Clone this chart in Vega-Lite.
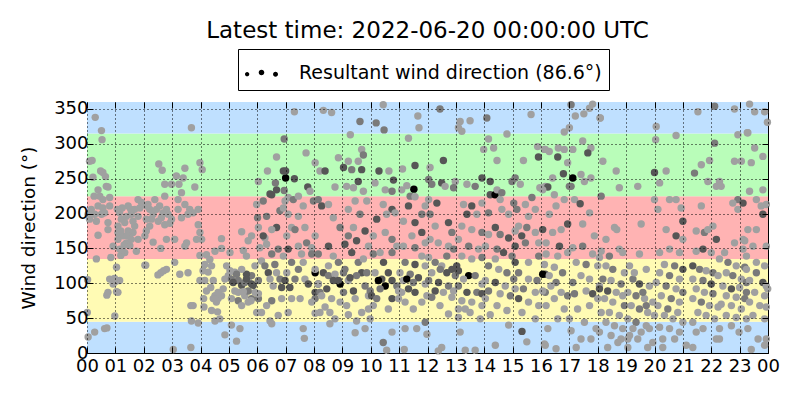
{
  "$schema": "https://vega.github.io/schema/vega-lite/v6.json",
  "width": 681,
  "height": 251,
  "autosize": "none",
  "padding": {"left": 87, "top": 102, "right": 32, "bottom": 47},
  "background": "white",
  "title": {
    "text": "Latest time: 2022-06-20 00:00:00 UTC",
    "font": "DejaVu Sans",
    "fontSize": 23,
    "fontWeight": "normal",
    "color": "black",
    "anchor": "middle",
    "offset": 6
  },
  "config": {
    "view": {"stroke": "black", "strokeWidth": 1},
    "axis": {
      "domain": false,
      "tickColor": "black",
      "tickSize": -6,
      "tickWidth": 1,
      "labelColor": "black",
      "labelFont": "DejaVu Sans",
      "labelFontSize": 18,
      "titleFont": "DejaVu Sans",
      "titleFontWeight": "normal",
      "titleFontSize": 18.5,
      "titleColor": "black",
      "gridColor": "black",
      "gridDash": [1, 3],
      "gridWidth": 1,
      "gridOpacity": 1,
      "labelPadding": 5
    }
  },
  "resolve": {"axis": {"x": "independent", "y": "independent"}},
  "datasets": {
    "obs": [
      {"t":0.29,"d":338,"s":0},{"t":0.51,"d":319,"s":0},{"t":0.53,"d":306,"s":0},{"t":0.09,"d":275,"s":0},{"t":0.18,"d":276,"s":0},{"t":0.48,"d":261,"s":0},{"t":0.56,"d":259,"s":0},{"t":0.21,"d":252,"s":0},{"t":0.65,"d":253,"s":0},{"t":0.68,"d":239,"s":0},{"t":0.39,"d":234,"s":0},{"t":0.74,"d":238,"s":0},{"t":0.45,"d":225,"s":0},{"t":0.25,"d":225,"s":0},{"t":0.56,"d":220,"s":0},{"t":0.8,"d":223,"s":0},{"t":0.39,"d":211,"s":0},{"t":0.15,"d":206,"s":0},{"t":0.56,"d":208,"s":0},{"t":0.8,"d":211,"s":0},{"t":0.27,"d":199,"s":0},{"t":0.51,"d":199,"s":0},{"t":0.09,"d":192,"s":0},{"t":0.33,"d":189,"s":0},{"t":0.62,"d":201,"s":0},{"t":0.74,"d":187,"s":0},{"t":0.04,"d":199,"s":0},{"t":0.39,"d":169,"s":0},{"t":0.74,"d":177,"s":0},{"t":0.33,"d":135,"s":0},{"t":0.92,"d":153,"s":0},{"t":0.84,"d":137,"s":0},{"t":0.8,"d":106,"s":0},{"t":0.98,"d":104,"s":0},{"t":0.92,"d":99,"s":0},{"t":0.74,"d":87,"s":0},{"t":1.04,"d":88,"s":0},{"t":0.98,"d":53,"s":0},{"t":0.01,"d":58,"s":0},{"t":0.27,"d":30,"s":0},{"t":0.62,"d":35,"s":0},{"t":0.04,"d":23,"s":0},{"t":0.02,"d":105,"s":0},{"t":0.7,"d":83,"s":0},{"t":0.7,"d":36,"s":0},{"t":0.97,"d":107,"s":0},{"t":1.02,"d":103,"s":0},
      {"t":1.15,"d":201,"s":0},{"t":1.21,"d":192,"s":0},{"t":1.09,"d":182,"s":0},{"t":1.33,"d":187,"s":0},{"t":1.45,"d":211,"s":0},{"t":1.56,"d":199,"s":0},{"t":1.68,"d":206,"s":0},{"t":1.8,"d":220,"s":0},{"t":1.92,"d":216,"s":0},{"t":1.09,"d":173,"s":0},{"t":1.27,"d":168,"s":0},{"t":1.39,"d":158,"s":0},{"t":1.15,"d":149,"s":0},{"t":1.51,"d":154,"s":0},{"t":1.62,"d":173,"s":0},{"t":1.68,"d":182,"s":0},{"t":1.8,"d":196,"s":0},{"t":1.74,"d":146,"s":0},{"t":1.33,"d":144,"s":0},{"t":1.09,"d":163,"s":0},{"t":1.45,"d":175,"s":0},{"t":1.86,"d":208,"s":0},{"t":1.62,"d":189,"s":0},{"t":1.31,"d":155,"s":0},{"t":1.19,"d":140,"s":0},{"t":2.07,"d":126,"s":0},{"t":1.24,"d":208,"s":0},{"t":1.39,"d":196,"s":0},{"t":1.54,"d":206,"s":0},{"t":1.07,"d":206,"s":0},{"t":1.19,"d":175,"s":0},{"t":1.42,"d":168,"s":0},{"t":1.56,"d":163,"s":0},{"t":1.8,"d":163,"s":0},{"t":1.24,"d":148,"s":0},{"t":1.04,"d":123,"s":0},{"t":1.09,"d":87,"s":0},{"t":1.15,"d":104,"s":0},
      {"t":2.53,"d":271,"s":0},{"t":2.65,"d":262,"s":0},{"t":2.15,"d":213,"s":0},{"t":2.33,"d":199,"s":0},{"t":2.45,"d":206,"s":0},{"t":2.56,"d":211,"s":0},{"t":2.68,"d":201,"s":0},{"t":2.74,"d":225,"s":0},{"t":2.8,"d":206,"s":0},{"t":2.86,"d":199,"s":0},{"t":2.92,"d":186,"s":0},{"t":2.09,"d":192,"s":0},{"t":2.21,"d":182,"s":0},{"t":2.39,"d":220,"s":0},{"t":2.62,"d":194,"s":0},{"t":2.04,"d":168,"s":0},{"t":2.33,"d":159,"s":0},{"t":2.6,"d":150,"s":0},{"t":2.8,"d":163,"s":0},{"t":2.6,"d":115,"s":0},{"t":2.8,"d":120,"s":0},{"t":2.74,"d":242,"s":0},{"t":2.98,"d":242,"s":0},{"t":2.21,"d":206,"s":0},{"t":2.09,"d":211,"s":0},{"t":2.27,"d":192,"s":0},{"t":2.51,"d":189,"s":0},{"t":2.74,"d":184,"s":0},{"t":2.09,"d":175,"s":0},{"t":2.04,"d":126,"s":0},{"t":2.5,"d":112,"s":0},{"t":2.7,"d":118,"s":0},
      {"t":3.15,"d":254,"s":0},{"t":3.39,"d":251,"s":0},{"t":3.45,"d":265,"s":0},{"t":3.68,"d":323,"s":0},{"t":3.24,"d":242,"s":0},{"t":3.33,"d":230,"s":0},{"t":3.21,"d":220,"s":0},{"t":3.45,"d":213,"s":0},{"t":3.62,"d":206,"s":0},{"t":3.74,"d":201,"s":0},{"t":3.92,"d":206,"s":0},{"t":3.8,"d":238,"s":0},{"t":2.98,"d":192,"s":0},{"t":3.33,"d":194,"s":0},{"t":3.09,"d":163,"s":0},{"t":3.51,"d":158,"s":0},{"t":3.92,"d":184,"s":0},{"t":3.98,"d":273,"s":0},{"t":4.06,"d":263,"s":0},{"t":3.98,"d":173,"s":0},{"t":4.04,"d":163,"s":0},{"t":3.98,"d":140,"s":0},{"t":3.45,"d":153,"s":0},{"t":3.09,"d":130,"s":0},{"t":3.56,"d":115,"s":0},{"t":3.27,"d":113,"s":0},{"t":3.66,"d":68,"s":0},{"t":3.74,"d":68,"s":0},{"t":3.92,"d":43,"s":0},{"t":3.04,"d":5,"s":0},{"t":3.66,"d":8,"s":0},{"t":3.68,"d":46,"s":0},{"t":3.21,"d":206,"s":0},{"t":3.56,"d":199,"s":0},{"t":3.86,"d":163,"s":0},
      {"t":4.21,"d":141,"s":0},{"t":4.51,"d":146,"s":0},{"t":4.33,"d":134,"s":0},{"t":4.15,"d":127,"s":0},{"t":4.09,"d":118,"s":0},{"t":3.98,"d":104,"s":0},{"t":4.45,"d":104,"s":0},{"t":4.21,"d":89,"s":0},{"t":4.36,"d":94,"s":0},{"t":4.51,"d":82,"s":0},{"t":4.62,"d":78,"s":0},{"t":4.56,"d":73,"s":0},{"t":4.39,"d":61,"s":0},{"t":4.6,"d":59,"s":0},{"t":4.68,"d":49,"s":0},{"t":4.51,"d":46,"s":0},{"t":4.74,"d":82,"s":0},{"t":4.8,"d":92,"s":0},{"t":4.86,"d":106,"s":0},{"t":4.98,"d":111,"s":0},{"t":4.92,"d":125,"s":0},{"t":5.04,"d":144,"s":0},{"t":4.74,"d":150,"s":0},{"t":5.09,"d":40,"s":0},{"t":4.86,"d":26,"s":0},{"t":4.74,"d":164,"s":0},{"t":4.12,"d":66,"s":0},{"t":4.11,"d":78,"s":0},{"t":4.45,"d":78,"s":0},{"t":4.62,"d":87,"s":0},{"t":4.27,"d":116,"s":0},{"t":4.15,"d":104,"s":0},{"t":4.39,"d":125,"s":0},
      {"t":5.09,"d":106,"s":1},{"t":5.21,"d":116,"s":0},{"t":5.33,"d":104,"s":1},{"t":5.45,"d":97,"s":2},{"t":5.56,"d":101,"s":1},{"t":5.68,"d":106,"s":0},{"t":5.8,"d":111,"s":1},{"t":5.62,"d":113,"s":2},{"t":5.45,"d":120,"s":0},{"t":5.21,"d":89,"s":0},{"t":5.09,"d":78,"s":0},{"t":5.33,"d":75,"s":1},{"t":5.56,"d":82,"s":0},{"t":5.8,"d":78,"s":1},{"t":5.92,"d":87,"s":0},{"t":5.86,"d":97,"s":2},{"t":5.68,"d":89,"s":1},{"t":5.51,"d":88,"s":0},{"t":5.98,"d":58,"s":0},{"t":5.39,"d":35,"s":0},{"t":5.27,"d":17,"s":0},{"t":5.45,"d":174,"s":0},{"t":5.68,"d":161,"s":0},{"t":5.62,"d":139,"s":0},{"t":5.8,"d":168,"s":0},{"t":5.92,"d":125,"s":0},{"t":5.51,"d":147,"s":0},{"t":5.78,"d":75,"s":0},{"t":5.62,"d":106,"s":2},{"t":5.15,"d":101,"s":2},{"t":5.33,"d":87,"s":0},{"t":5.27,"d":113,"s":1},{"t":6.04,"d":104,"s":1},{"t":5.8,"d":99,"s":2},{"t":5.04,"d":118,"s":0},{"t":5.68,"d":73,"s":0},{"t":5.45,"d":68,"s":0},
      {"t":6.04,"d":246,"s":0},{"t":6.36,"d":261,"s":0},{"t":6.68,"d":281,"s":0},{"t":6.45,"d":228,"s":2},{"t":6.51,"d":227,"s":2},{"t":6.64,"d":244,"s":1},{"t":6.21,"d":218,"s":1},{"t":6.33,"d":196,"s":1},{"t":5.98,"d":213,"s":0},{"t":6.04,"d":180,"s":0},{"t":6.27,"d":165,"s":0},{"t":6.09,"d":151,"s":0},{"t":6.33,"d":156,"s":0},{"t":6.68,"d":180,"s":2},{"t":6.8,"d":204,"s":1},{"t":6.92,"d":208,"s":0},{"t":6.98,"d":218,"s":0},{"t":7.0,"d":251,"s":3},{"t":6.01,"d":194,"s":1},{"t":6.15,"d":132,"s":0},{"t":6.51,"d":142,"s":1},{"t":6.62,"d":127,"s":1},{"t":6.68,"d":115,"s":0},{"t":6.27,"d":125,"s":1},{"t":6.39,"d":115,"s":2},{"t":6.45,"d":106,"s":0},{"t":6.8,"d":106,"s":1},{"t":6.56,"d":96,"s":0},{"t":6.86,"d":94,"s":2},{"t":6.98,"d":104,"s":2},{"t":6.51,"d":75,"s":1},{"t":6.33,"d":68,"s":0},{"t":6.15,"d":58,"s":0},{"t":6.04,"d":78,"s":1},{"t":6.86,"d":78,"s":0},{"t":6.74,"d":54,"s":0},{"t":6.45,"d":46,"s":0},{"t":6.51,"d":42,"s":0},{"t":6.04,"d":85,"s":0},{"t":6.68,"d":234,"s":2},{"t":6.92,"d":261,"s":2},{"t":6.21,"d":168,"s":2},{"t":6.51,"d":177,"s":0},{"t":6.74,"d":149,"s":1},{"t":6.92,"d":139,"s":0},
      {"t":6.95,"d":307,"s":1},{"t":7.31,"d":346,"s":0},{"t":7.0,"d":261,"s":2},{"t":7.31,"d":250,"s":2},{"t":6.95,"d":233,"s":1},{"t":7.09,"d":223,"s":0},{"t":7.27,"d":220,"s":1},{"t":7.45,"d":225,"s":0},{"t":7.78,"d":238,"s":2},{"t":7.72,"d":287,"s":0},{"t":7.86,"d":232,"s":0},{"t":7.98,"d":218,"s":1},{"t":7.09,"d":199,"s":0},{"t":7.45,"d":196,"s":0},{"t":7.62,"d":211,"s":0},{"t":7.21,"d":180,"s":0},{"t":7.33,"d":177,"s":1},{"t":7.68,"d":180,"s":0},{"t":7.04,"d":168,"s":0},{"t":7.74,"d":158,"s":1},{"t":7.92,"d":151,"s":0},{"t":7.09,"d":149,"s":2},{"t":7.45,"d":153,"s":0},{"t":7.56,"d":142,"s":0},{"t":7.21,"d":130,"s":1},{"t":7.62,"d":130,"s":0},{"t":7.92,"d":142,"s":1},{"t":7.04,"d":115,"s":0},{"t":7.33,"d":106,"s":1},{"t":7.68,"d":106,"s":0},{"t":8.04,"d":115,"s":3},{"t":7.8,"d":99,"s":2},{"t":8.04,"d":87,"s":2},{"t":7.15,"d":94,"s":2},{"t":8.04,"d":78,"s":1},{"t":7.92,"d":73,"s":0},{"t":7.51,"d":78,"s":0},{"t":7.09,"d":58,"s":0},{"t":7.62,"d":35,"s":0},{"t":7.66,"d":21,"s":0},{"t":8.04,"d":57,"s":0},{"t":7.45,"d":120,"s":1},{"t":7.21,"d":78,"s":0},{"t":8.15,"d":99,"s":2},
      {"t":8.33,"d":348,"s":0},{"t":8.62,"d":345,"s":0},{"t":8.04,"d":273,"s":0},{"t":8.21,"d":261,"s":0},{"t":8.39,"d":261,"s":2},{"t":8.86,"d":280,"s":0},{"t":9.04,"d":266,"s":2},{"t":9.21,"d":275,"s":0},{"t":9.15,"d":239,"s":0},{"t":8.74,"d":238,"s":0},{"t":8.15,"d":220,"s":1},{"t":8.27,"d":211,"s":2},{"t":8.68,"d":194,"s":0},{"t":8.51,"d":213,"s":0},{"t":8.92,"d":180,"s":1},{"t":8.04,"d":168,"s":0},{"t":8.51,"d":153,"s":2},{"t":9.09,"d":156,"s":2},{"t":8.68,"d":139,"s":0},{"t":8.15,"d":142,"s":1},{"t":8.86,"d":130,"s":1},{"t":8.04,"d":120,"s":0},{"t":8.33,"d":115,"s":2},{"t":8.51,"d":111,"s":1},{"t":8.74,"d":113,"s":0},{"t":8.15,"d":99,"s":0},{"t":8.68,"d":104,"s":2},{"t":8.92,"d":99,"s":3},{"t":8.45,"d":92,"s":2},{"t":8.21,"d":87,"s":1},{"t":8.62,"d":78,"s":0},{"t":8.92,"d":73,"s":0},{"t":8.39,"d":66,"s":0},{"t":8.56,"d":58,"s":0},{"t":8.74,"d":49,"s":0},{"t":8.56,"d":42,"s":0},{"t":8.21,"d":58,"s":0},{"t":9.04,"d":87,"s":1},{"t":8.27,"d":82,"s":0},{"t":8.86,"d":104,"s":2},{"t":8.51,"d":125,"s":0},{"t":9.04,"d":115,"s":1},
      {"t":9.62,"d":332,"s":1},{"t":9.28,"d":313,"s":0},{"t":9.68,"d":292,"s":0},{"t":9.74,"d":284,"s":1},{"t":9.56,"d":275,"s":0},{"t":9.33,"d":263,"s":1},{"t":9.68,"d":263,"s":2},{"t":9.39,"d":237,"s":0},{"t":9.74,"d":232,"s":0},{"t":9.56,"d":246,"s":2},{"t":9.21,"d":206,"s":0},{"t":9.45,"d":218,"s":0},{"t":9.86,"d":218,"s":0},{"t":9.62,"d":199,"s":1},{"t":9.39,"d":180,"s":0},{"t":9.21,"d":168,"s":1},{"t":9.5,"d":161,"s":2},{"t":9.8,"d":175,"s":2},{"t":9.92,"d":153,"s":0},{"t":9.33,"d":144,"s":2},{"t":9.56,"d":130,"s":1},{"t":9.74,"d":135,"s":0},{"t":9.09,"d":120,"s":1},{"t":9.68,"d":115,"s":2},{"t":9.5,"d":111,"s":1},{"t":9.21,"d":104,"s":0},{"t":9.8,"d":96,"s":1},{"t":9.92,"d":82,"s":0},{"t":9.45,"d":78,"s":0},{"t":9.15,"d":68,"s":0},{"t":9.68,"d":58,"s":0},{"t":9.21,"d":55,"s":0},{"t":9.5,"d":46,"s":0},{"t":9.8,"d":35,"s":0},{"t":9.45,"d":29,"s":0},{"t":9.98,"d":49,"s":0},{"t":9.27,"d":108,"s":2},{"t":9.98,"d":89,"s":1},{"t":9.39,"d":89,"s":2},{"t":9.86,"d":115,"s":1},
      {"t":10.44,"d":356,"s":0},{"t":10.19,"d":330,"s":1},{"t":10.47,"d":320,"s":1},{"t":10.29,"d":261,"s":2},{"t":10.64,"d":261,"s":0},{"t":10.8,"d":248,"s":2},{"t":10.51,"d":234,"s":0},{"t":10.75,"d":232,"s":1},{"t":10.15,"d":244,"s":0},{"t":10.44,"d":213,"s":0},{"t":10.75,"d":206,"s":2},{"t":10.86,"d":201,"s":0},{"t":10.56,"d":199,"s":0},{"t":10.21,"d":192,"s":2},{"t":10.09,"d":168,"s":0},{"t":10.51,"d":173,"s":0},{"t":10.75,"d":163,"s":1},{"t":10.92,"d":153,"s":0},{"t":10.09,"d":142,"s":1},{"t":10.33,"d":144,"s":0},{"t":10.75,"d":144,"s":1},{"t":10.45,"d":130,"s":2},{"t":10.62,"d":115,"s":2},{"t":10.15,"d":115,"s":0},{"t":10.39,"d":106,"s":2},{"t":10.75,"d":104,"s":2},{"t":10.92,"d":96,"s":1},{"t":10.51,"d":96,"s":3},{"t":10.33,"d":92,"s":1},{"t":10.03,"d":82,"s":2},{"t":10.21,"d":78,"s":1},{"t":10.75,"d":78,"s":2},{"t":10.98,"d":89,"s":0},{"t":10.09,"d":68,"s":0},{"t":9.92,"d":63,"s":0},{"t":10.62,"d":63,"s":0},{"t":10.98,"d":78,"s":0},{"t":10.44,"d":15,"s":1},{"t":10.56,"d":4,"s":0},{"t":10.75,"d":30,"s":0},{"t":10.27,"d":104,"s":3},{"t":11.09,"d":234,"s":0},
      {"t":11.66,"d":340,"s":0},{"t":11.7,"d":323,"s":0},{"t":11.33,"d":308,"s":0},{"t":11.12,"d":264,"s":0},{"t":11.56,"d":269,"s":2},{"t":11.27,"d":240,"s":0},{"t":11.52,"d":235,"s":3},{"t":11.39,"d":225,"s":1},{"t":11.56,"d":224,"s":0},{"t":11.33,"d":211,"s":2},{"t":11.92,"d":211,"s":0},{"t":11.8,"d":199,"s":1},{"t":11.56,"d":187,"s":2},{"t":11.15,"d":189,"s":0},{"t":11.45,"d":168,"s":0},{"t":11.8,"d":173,"s":2},{"t":11.92,"d":158,"s":0},{"t":11.15,"d":153,"s":0},{"t":11.56,"d":151,"s":1},{"t":11.8,"d":139,"s":0},{"t":11.21,"d":130,"s":1},{"t":11.56,"d":127,"s":2},{"t":11.92,"d":125,"s":0},{"t":11.03,"d":115,"s":0},{"t":11.39,"d":113,"s":1},{"t":11.68,"d":108,"s":2},{"t":11.15,"d":104,"s":0},{"t":11.5,"d":101,"s":1},{"t":11.92,"d":99,"s":0},{"t":11.09,"d":87,"s":0},{"t":11.33,"d":92,"s":2},{"t":11.56,"d":87,"s":2},{"t":11.98,"d":82,"s":0},{"t":11.21,"d":73,"s":0},{"t":11.8,"d":73,"s":0},{"t":11.5,"d":63,"s":0},{"t":11.21,"d":35,"s":0},{"t":11.62,"d":35,"s":0},{"t":11.92,"d":44,"s":1},{"t":11.18,"d":5,"s":0},{"t":12.04,"d":249,"s":1},{"t":11.27,"d":106,"s":3},
      {"t":12.44,"d":350,"s":1},{"t":12.15,"d":242,"s":1},{"t":12.5,"d":244,"s":2},{"t":12.09,"d":266,"s":0},{"t":12.56,"d":276,"s":2},{"t":12.04,"d":220,"s":0},{"t":12.33,"d":215,"s":2},{"t":12.62,"d":239,"s":0},{"t":12.09,"d":199,"s":1},{"t":12.27,"d":182,"s":0},{"t":12.74,"d":187,"s":2},{"t":12.86,"d":173,"s":1},{"t":12.09,"d":163,"s":0},{"t":12.38,"d":158,"s":0},{"t":12.74,"d":153,"s":0},{"t":12.92,"d":149,"s":1},{"t":12.04,"d":137,"s":0},{"t":12.27,"d":130,"s":1},{"t":12.5,"d":125,"s":0},{"t":12.86,"d":120,"s":2},{"t":12.15,"d":115,"s":0},{"t":12.68,"d":115,"s":2},{"t":12.98,"d":111,"s":1},{"t":12.04,"d":104,"s":1},{"t":12.39,"d":101,"s":2},{"t":12.74,"d":96,"s":1},{"t":12.27,"d":89,"s":2},{"t":12.56,"d":87,"s":0},{"t":12.92,"d":89,"s":0},{"t":12.15,"d":80,"s":1},{"t":12.86,"d":80,"s":0},{"t":12.44,"d":68,"s":0},{"t":12.74,"d":56,"s":0},{"t":13.09,"d":63,"s":0},{"t":11.98,"d":27,"s":0},{"t":12.5,"d":8,"s":0},{"t":12.38,"d":3,"s":0},{"t":12.68,"d":139,"s":1},{"t":12.45,"d":120,"s":1},
      {"t":13.15,"d":332,"s":0},{"t":13.5,"d":333,"s":0},{"t":13.21,"d":318,"s":0},{"t":13.09,"d":323,"s":0},{"t":12.98,"d":246,"s":0},{"t":13.39,"d":242,"s":0},{"t":13.68,"d":239,"s":1},{"t":13.92,"d":251,"s":2},{"t":13.27,"d":213,"s":0},{"t":13.56,"d":211,"s":2},{"t":13.39,"d":199,"s":2},{"t":13.74,"d":199,"s":0},{"t":13.92,"d":215,"s":0},{"t":13.21,"d":182,"s":0},{"t":13.56,"d":177,"s":0},{"t":13.92,"d":173,"s":1},{"t":13.09,"d":163,"s":0},{"t":13.45,"d":153,"s":1},{"t":13.8,"d":149,"s":0},{"t":13.21,"d":139,"s":0},{"t":13.56,"d":135,"s":0},{"t":13.92,"d":137,"s":1},{"t":13.03,"d":125,"s":2},{"t":13.45,"d":111,"s":3},{"t":13.09,"d":118,"s":2},{"t":13.27,"d":106,"s":0},{"t":13.68,"d":111,"s":1},{"t":13.92,"d":99,"s":0},{"t":13.09,"d":96,"s":1},{"t":13.39,"d":87,"s":2},{"t":13.74,"d":87,"s":1},{"t":13.92,"d":85,"s":2},{"t":13.21,"d":75,"s":0},{"t":13.56,"d":73,"s":0},{"t":13.92,"d":68,"s":0},{"t":13.33,"d":63,"s":0},{"t":13.09,"d":51,"s":0},{"t":13.5,"d":58,"s":0},{"t":13.86,"d":49,"s":0},{"t":13.15,"d":30,"s":0},{"t":13.33,"d":4,"s":0},{"t":13.68,"d":4,"s":0},{"t":12.92,"d":237,"s":1},
      {"t":14.09,"d":337,"s":1},{"t":14.8,"d":314,"s":0},{"t":14.15,"d":307,"s":0},{"t":14.33,"d":294,"s":0},{"t":14.45,"d":276,"s":0},{"t":13.98,"d":292,"s":0},{"t":14.21,"d":246,"s":2},{"t":14.21,"d":227,"s":2},{"t":14.38,"d":227,"s":3},{"t":14.45,"d":234,"s":0},{"t":14.56,"d":220,"s":0},{"t":14.98,"d":246,"s":1},{"t":15.09,"d":251,"s":1},{"t":14.62,"d":206,"s":0},{"t":14.15,"d":201,"s":1},{"t":14.86,"d":199,"s":0},{"t":14.39,"d":180,"s":2},{"t":14.15,"d":170,"s":0},{"t":14.56,"d":170,"s":1},{"t":14.86,"d":165,"s":2},{"t":15.09,"d":175,"s":0},{"t":14.04,"d":153,"s":0},{"t":14.45,"d":149,"s":1},{"t":14.68,"d":144,"s":2},{"t":14.98,"d":139,"s":1},{"t":14.39,"d":135,"s":0},{"t":14.15,"d":125,"s":1},{"t":14.51,"d":120,"s":0},{"t":14.8,"d":115,"s":1},{"t":14.04,"d":104,"s":0},{"t":14.39,"d":101,"s":2},{"t":14.74,"d":96,"s":0},{"t":15.04,"d":106,"s":1},{"t":14.15,"d":89,"s":1},{"t":14.56,"d":85,"s":0},{"t":14.92,"d":82,"s":1},{"t":14.04,"d":78,"s":0},{"t":14.45,"d":68,"s":0},{"t":14.8,"d":61,"s":0},{"t":14.21,"d":55,"s":0},{"t":14.86,"d":40,"s":0},{"t":14.39,"d":11,"s":0},{"t":15.33,"d":31,"s":2},{"t":15.5,"d":16,"s":0},{"t":14.62,"d":230,"s":1},{"t":15.04,"d":215,"s":1},
      {"t":15.65,"d":342,"s":0},{"t":15.88,"d":296,"s":0},{"t":15.38,"d":276,"s":0},{"t":16.15,"d":292,"s":0},{"t":15.91,"d":281,"s":2},{"t":15.96,"d":237,"s":0},{"t":16.15,"d":239,"s":0},{"t":15.45,"d":213,"s":0},{"t":15.15,"d":206,"s":1},{"t":15.8,"d":206,"s":0},{"t":15.56,"d":196,"s":0},{"t":15.21,"d":182,"s":0},{"t":15.5,"d":180,"s":1},{"t":15.8,"d":173,"s":0},{"t":15.32,"d":168,"s":2},{"t":15.09,"d":153,"s":2},{"t":15.45,"d":158,"s":1},{"t":15.92,"d":158,"s":0},{"t":15.09,"d":130,"s":2},{"t":15.56,"d":130,"s":0},{"t":15.92,"d":139,"s":1},{"t":15.21,"d":115,"s":1},{"t":15.56,"d":106,"s":0},{"t":15.86,"d":104,"s":1},{"t":16.15,"d":113,"s":2},{"t":15.09,"d":92,"s":0},{"t":15.38,"d":92,"s":1},{"t":15.8,"d":87,"s":0},{"t":16.15,"d":87,"s":1},{"t":15.21,"d":78,"s":2},{"t":15.56,"d":73,"s":0},{"t":15.92,"d":68,"s":0},{"t":15.33,"d":58,"s":0},{"t":15.8,"d":49,"s":0},{"t":16.15,"d":11,"s":0},{"t":15.27,"d":242,"s":0},{"t":15.68,"d":223,"s":1},
      {"t":17.06,"d":356,"s":1},{"t":16.82,"d":317,"s":0},{"t":17.0,"d":323,"s":0},{"t":16.12,"d":292,"s":0},{"t":16.29,"d":289,"s":0},{"t":16.61,"d":294,"s":0},{"t":16.82,"d":292,"s":0},{"t":17.12,"d":292,"s":0},{"t":16.59,"d":281,"s":2},{"t":16.94,"d":273,"s":0},{"t":16.79,"d":257,"s":2},{"t":16.41,"d":251,"s":0},{"t":16.24,"d":238,"s":2},{"t":16.06,"d":234,"s":0},{"t":16.47,"d":227,"s":0},{"t":17.0,"d":239,"s":1},{"t":16.82,"d":220,"s":0},{"t":16.53,"d":211,"s":0},{"t":16.29,"d":199,"s":0},{"t":16.06,"d":177,"s":2},{"t":16.41,"d":173,"s":0},{"t":16.71,"d":177,"s":0},{"t":16.94,"d":185,"s":2},{"t":16.18,"d":158,"s":0},{"t":16.65,"d":153,"s":2},{"t":16.18,"d":142,"s":0},{"t":16.59,"d":139,"s":0},{"t":16.94,"d":144,"s":0},{"t":16.12,"d":127,"s":0},{"t":16.47,"d":123,"s":0},{"t":16.06,"d":113,"s":3},{"t":16.29,"d":111,"s":0},{"t":16.76,"d":115,"s":1},{"t":16.53,"d":101,"s":1},{"t":16.06,"d":89,"s":0},{"t":16.35,"d":96,"s":0},{"t":16.71,"d":87,"s":0},{"t":16.94,"d":82,"s":1},{"t":16.47,"d":78,"s":0},{"t":16.18,"d":68,"s":0},{"t":16.82,"d":63,"s":0},{"t":16.59,"d":49,"s":0},{"t":16.24,"d":35,"s":0},{"t":16.12,"d":13,"s":0},{"t":16.53,"d":6,"s":0},
      {"t":17.21,"d":340,"s":0},{"t":17.51,"d":343,"s":0},{"t":17.71,"d":351,"s":0},{"t":17.82,"d":357,"s":0},{"t":18.08,"d":337,"s":0},{"t":17.47,"d":304,"s":0},{"t":17.76,"d":294,"s":0},{"t":17.65,"d":287,"s":2},{"t":17.12,"d":251,"s":3},{"t":17.06,"d":239,"s":1},{"t":17.41,"d":256,"s":0},{"t":17.76,"d":251,"s":0},{"t":17.53,"d":246,"s":0},{"t":18.12,"d":225,"s":1},{"t":17.18,"d":220,"s":0},{"t":17.38,"d":214,"s":2},{"t":17.71,"d":201,"s":0},{"t":17.47,"d":185,"s":0},{"t":17.88,"d":168,"s":0},{"t":17.12,"d":151,"s":0},{"t":17.47,"d":153,"s":1},{"t":17.82,"d":142,"s":0},{"t":18.06,"d":137,"s":0},{"t":17.24,"d":130,"s":0},{"t":17.59,"d":127,"s":1},{"t":18.0,"d":125,"s":0},{"t":17.41,"d":111,"s":0},{"t":17.12,"d":101,"s":1},{"t":17.71,"d":106,"s":0},{"t":18.06,"d":96,"s":0},{"t":17.18,"d":85,"s":1},{"t":17.59,"d":89,"s":0},{"t":17.82,"d":85,"s":2},{"t":18.0,"d":78,"s":0},{"t":17.29,"d":63,"s":0},{"t":17.71,"d":68,"s":0},{"t":17.0,"d":49,"s":0},{"t":17.53,"d":44,"s":0},{"t":17.94,"d":35,"s":0},{"t":17.41,"d":20,"s":0},{"t":17.76,"d":20,"s":0},{"t":17.24,"d":8,"s":0},{"t":17.06,"d":32,"s":0},
      {"t":18.09,"d":337,"s":0},{"t":18.18,"d":275,"s":0},{"t":18.76,"d":237,"s":0},{"t":18.59,"d":180,"s":0},{"t":18.67,"d":177,"s":0},{"t":18.76,"d":149,"s":0},{"t":18.12,"d":146,"s":0},{"t":18.41,"d":139,"s":1},{"t":18.88,"d":144,"s":0},{"t":18.29,"d":125,"s":0},{"t":18.53,"d":120,"s":1},{"t":18.94,"d":115,"s":0},{"t":18.18,"d":106,"s":1},{"t":18.47,"d":104,"s":0},{"t":18.82,"d":99,"s":1},{"t":18.06,"d":92,"s":2},{"t":18.35,"d":89,"s":2},{"t":18.65,"d":87,"s":0},{"t":18.88,"d":82,"s":0},{"t":18.24,"d":78,"s":0},{"t":18.53,"d":73,"s":0},{"t":18.94,"d":68,"s":1},{"t":18.12,"d":58,"s":0},{"t":18.41,"d":58,"s":0},{"t":18.76,"d":54,"s":0},{"t":18.29,"d":44,"s":0},{"t":18.59,"d":39,"s":0},{"t":18.88,"d":35,"s":0},{"t":18.06,"d":30,"s":0},{"t":18.47,"d":25,"s":0},{"t":18.82,"d":20,"s":0},{"t":18.35,"d":8,"s":0},{"t":18.71,"d":15,"s":0},{"t":19.06,"d":20,"s":0},{"t":18.65,"d":261,"s":0},{"t":18.29,"d":163,"s":0},
      {"t":19.41,"d":239,"s":0},{"t":19.53,"d":185,"s":0},{"t":19.47,"d":142,"s":0},{"t":19.12,"d":125,"s":0},{"t":19.71,"d":120,"s":0},{"t":19.24,"d":106,"s":1},{"t":19.47,"d":99,"s":2},{"t":19.82,"d":96,"s":0},{"t":19.06,"d":87,"s":0},{"t":19.35,"d":82,"s":1},{"t":19.65,"d":78,"s":0},{"t":19.94,"d":73,"s":0},{"t":19.18,"d":68,"s":0},{"t":19.47,"d":63,"s":1},{"t":19.76,"d":58,"s":0},{"t":20.0,"d":54,"s":0},{"t":19.06,"d":49,"s":0},{"t":19.35,"d":44,"s":1},{"t":19.71,"d":39,"s":0},{"t":19.24,"d":35,"s":0},{"t":19.53,"d":30,"s":0},{"t":19.82,"d":35,"s":0},{"t":19.12,"d":25,"s":0},{"t":19.41,"d":20,"s":0},{"t":19.94,"d":15,"s":0},{"t":19.76,"d":8,"s":0},{"t":19.06,"d":8,"s":0},{"t":20.06,"d":325,"s":0},{"t":20.04,"d":306,"s":0},{"t":20.0,"d":259,"s":2},{"t":20.18,"d":244,"s":0},{"t":20.0,"d":220,"s":0},{"t":19.29,"d":115,"s":0},{"t":19.59,"d":87,"s":1},{"t":19.71,"d":68,"s":1},
      {"t":20.76,"d":312,"s":0},{"t":20.41,"d":261,"s":0},{"t":20.53,"d":220,"s":0},{"t":20.76,"d":220,"s":0},{"t":20.12,"d":206,"s":0},{"t":20.94,"d":208,"s":0},{"t":21.0,"d":189,"s":2},{"t":20.41,"d":177,"s":0},{"t":20.76,"d":168,"s":2},{"t":21.0,"d":163,"s":0},{"t":20.53,"d":149,"s":0},{"t":20.18,"d":144,"s":0},{"t":20.88,"d":144,"s":0},{"t":20.35,"d":127,"s":0},{"t":20.71,"d":125,"s":1},{"t":21.0,"d":120,"s":2},{"t":20.18,"d":115,"s":0},{"t":20.53,"d":111,"s":1},{"t":20.88,"d":106,"s":0},{"t":20.06,"d":101,"s":0},{"t":20.41,"d":96,"s":1},{"t":20.76,"d":92,"s":0},{"t":21.0,"d":87,"s":1},{"t":20.24,"d":82,"s":0},{"t":20.59,"d":78,"s":1},{"t":20.88,"d":73,"s":0},{"t":20.12,"d":68,"s":0},{"t":20.47,"d":63,"s":1},{"t":20.82,"d":58,"s":0},{"t":20.35,"d":54,"s":0},{"t":20.65,"d":49,"s":0},{"t":21.0,"d":44,"s":0},{"t":20.18,"d":37,"s":0},{"t":20.53,"d":35,"s":0},{"t":20.88,"d":30,"s":0},{"t":20.29,"d":20,"s":0},{"t":20.71,"d":20,"s":0},{"t":21.12,"d":11,"s":0},{"t":20.29,"d":8,"s":0},
      {"t":21.53,"d":346,"s":0},{"t":22.12,"d":354,"s":1},{"t":21.65,"d":270,"s":0},{"t":21.41,"d":258,"s":1},{"t":21.94,"d":276,"s":0},{"t":22.12,"d":301,"s":1},{"t":21.88,"d":246,"s":0},{"t":22.29,"d":246,"s":0},{"t":22.18,"d":239,"s":0},{"t":21.65,"d":211,"s":0},{"t":21.47,"d":175,"s":0},{"t":21.76,"d":173,"s":1},{"t":21.88,"d":177,"s":0},{"t":22.06,"d":182,"s":0},{"t":22.18,"d":163,"s":2},{"t":21.47,"d":146,"s":0},{"t":21.71,"d":149,"s":2},{"t":22.0,"d":144,"s":0},{"t":21.35,"d":125,"s":2},{"t":21.59,"d":120,"s":1},{"t":21.82,"d":118,"s":0},{"t":22.06,"d":115,"s":1},{"t":22.24,"d":111,"s":0},{"t":21.35,"d":106,"s":0},{"t":21.71,"d":104,"s":1},{"t":22.0,"d":99,"s":2},{"t":21.47,"d":92,"s":0},{"t":21.76,"d":87,"s":0},{"t":22.06,"d":85,"s":1},{"t":21.35,"d":78,"s":0},{"t":21.65,"d":73,"s":1},{"t":21.94,"d":68,"s":0},{"t":22.24,"d":66,"s":0},{"t":21.53,"d":58,"s":0},{"t":21.82,"d":54,"s":0},{"t":22.12,"d":49,"s":0},{"t":21.35,"d":44,"s":0},{"t":21.71,"d":35,"s":0},{"t":22.29,"d":35,"s":0},{"t":21.47,"d":30,"s":0},{"t":22.18,"d":20,"s":0},{"t":21.35,"d":8,"s":0},
      {"t":22.82,"d":350,"s":0},{"t":22.94,"d":313,"s":0},{"t":23.27,"d":316,"s":0},{"t":22.82,"d":275,"s":0},{"t":23.06,"d":275,"s":0},{"t":22.35,"d":239,"s":0},{"t":22.94,"d":220,"s":1},{"t":22.76,"d":215,"s":0},{"t":23.12,"d":215,"s":2},{"t":22.94,"d":206,"s":0},{"t":23.12,"d":163,"s":0},{"t":22.82,"d":158,"s":0},{"t":23.12,"d":149,"s":0},{"t":22.47,"d":144,"s":0},{"t":22.29,"d":135,"s":0},{"t":22.59,"d":130,"s":1},{"t":22.88,"d":125,"s":0},{"t":23.18,"d":123,"s":1},{"t":22.53,"d":115,"s":0},{"t":22.76,"d":111,"s":1},{"t":23.06,"d":106,"s":0},{"t":22.41,"d":96,"s":0},{"t":22.71,"d":92,"s":2},{"t":23.0,"d":94,"s":0},{"t":23.24,"d":101,"s":1},{"t":22.53,"d":82,"s":0},{"t":22.88,"d":80,"s":0},{"t":23.18,"d":78,"s":1},{"t":22.35,"d":70,"s":0},{"t":22.71,"d":68,"s":0},{"t":23.06,"d":63,"s":0},{"t":22.53,"d":54,"s":0},{"t":22.88,"d":51,"s":0},{"t":23.24,"d":49,"s":0},{"t":22.71,"d":39,"s":0},{"t":22.29,"d":20,"s":0},{"t":22.98,"d":30,"s":0},
      {"t":23.35,"d":357,"s":0},{"t":23.53,"d":346,"s":0},{"t":23.88,"d":346,"s":0},{"t":23.98,"d":331,"s":0},{"t":23.29,"d":316,"s":0},{"t":23.53,"d":294,"s":0},{"t":23.82,"d":282,"s":0},{"t":23.41,"d":273,"s":0},{"t":23.35,"d":232,"s":0},{"t":23.82,"d":234,"s":0},{"t":23.59,"d":220,"s":0},{"t":23.76,"d":211,"s":0},{"t":23.94,"d":213,"s":0},{"t":23.82,"d":199,"s":2},{"t":23.29,"d":177,"s":0},{"t":23.59,"d":177,"s":0},{"t":23.18,"d":161,"s":0},{"t":23.47,"d":153,"s":0},{"t":23.94,"d":153,"s":0},{"t":23.24,"d":139,"s":0},{"t":23.59,"d":130,"s":0},{"t":23.88,"d":125,"s":0},{"t":23.24,"d":120,"s":0},{"t":23.59,"d":115,"s":1},{"t":23.35,"d":104,"s":0},{"t":23.82,"d":101,"s":2},{"t":23.94,"d":96,"s":0},{"t":23.24,"d":87,"s":1},{"t":23.53,"d":87,"s":0},{"t":23.88,"d":82,"s":0},{"t":23.99,"d":92,"s":0},{"t":23.35,"d":73,"s":0},{"t":23.71,"d":68,"s":0},{"t":23.94,"d":66,"s":0},{"t":23.47,"d":54,"s":0},{"t":23.88,"d":49,"s":0},{"t":23.29,"d":35,"s":0},{"t":23.65,"d":20,"s":0},{"t":23.88,"d":11,"s":0},{"t":23.41,"d":5,"s":0},{"t":23.94,"d":20,"s":0}
    ]
  },
  "layer": [
    {
      "data": {"values": [
        {"lo": 0, "hi": 45, "sector": "N"},
        {"lo": 45, "hi": 135, "sector": "E"},
        {"lo": 135, "hi": 225, "sector": "S"},
        {"lo": 225, "hi": 315, "sector": "W"},
        {"lo": 315, "hi": 360, "sector": "N2"}
      ]},
      "mark": {"type": "rect"},
      "encoding": {
        "y": {"field": "lo", "type": "quantitative", "scale": {"domain": [0, 360], "nice": false}, "axis": null},
        "y2": {"field": "hi"},
        "fill": {
          "field": "sector",
          "type": "nominal",
          "scale": {"domain": ["N", "E", "S", "W", "N2"], "range": ["#bfe0ff", "#fffbb4", "#ffb3b3", "#b9fdb9", "#bfe0ff"]},
          "legend": null
        }
      }
    },
    {
      "data": {"name": "obs"},
      "mark": {"type": "circle", "size": 55, "opacity": 1},
      "encoding": {
        "x": {
          "field": "t",
          "type": "quantitative",
          "scale": {"domain": [0, 24], "nice": false, "zero": false},
          "axis": {
            "orient": "bottom",
            "title": null,
            "values": [0,1,2,3,4,5,6,7,8,9,10,11,12,13,14,15,16,17,18,19,20,21,22,23,24],
            "labelExpr": "(datum.value % 24 < 10 ? '0' : '') + (datum.value % 24)",
            "labelFlush": false,
            "labelOverlap": false,
            "labelPadding": 10,
            "grid": true,
            "zindex": 1
          }
        },
        "y": {
          "field": "d",
          "type": "quantitative",
          "scale": {"domain": [0, 360], "nice": false},
          "axis": {
            "orient": "left",
            "title": "Wind direction (°)",
            "values": [0, 50, 100, 150, 200, 250, 300, 350],
            "labelFlush": false,
            "labelOverlap": false,
            "labelPadding": 5,
            "titlePadding": 15,
            "grid": true,
            "zindex": 1
          }
        },
        "color": {
          "field": "s",
          "type": "ordinal",
          "scale": {"domain": [0, 1, 2, 3], "range": ["#a0a0a0", "#7a7a7a", "#565656", "#000000"]},
          "legend": null
        }
      }
    },
    {
      "data": {"name": "obs"},
      "mark": {"type": "circle", "opacity": 0},
      "encoding": {
        "x": {
          "field": "t",
          "type": "quantitative",
          "axis": {
            "orient": "top",
            "title": null,
            "labels": false,
            "grid": false,
            "values": [0,1,2,3,4,5,6,7,8,9,10,11,12,13,14,15,16,17,18,19,20,21,22,23,24],
            "zindex": 1
          }
        },
        "y": {
          "field": "d",
          "type": "quantitative",
          "axis": {
            "orient": "right",
            "title": null,
            "labels": false,
            "grid": false,
            "values": [0, 50, 100, 150, 200, 250, 300, 350],
            "zindex": 1
          }
        }
      }
    },
    {
      "data": {"values": [{"label": "Resultant wind direction (86.6°)"}]},
      "mark": {"type": "point", "filled": true, "color": "black", "opacity": 0},
      "encoding": {
        "shape": {
          "field": "label",
          "type": "nominal",
          "scale": {"range": ["M-1,0.1a0.13,0.13 0 1,0 0.26,0a0.13,0.13 0 1,0 -0.26,0M-0.17,0a0.17,0.17 0 1,0 0.34,0a0.17,0.17 0 1,0 -0.34,0M0.7,0.1a0.15,0.15 0 1,0 0.3,0a0.15,0.15 0 1,0 -0.3,0"]},
          "legend": {
            "title": null,
            "orient": "none",
            "legendX": 151,
            "legendY": -53,
            "padding": 7,
            "strokeColor": "black",
            "fillColor": "white",
            "cornerRadius": 0,
            "symbolSize": 1089,
            "symbolOpacity": 1,
            "symbolFillColor": "black",
            "symbolStrokeColor": "black",
            "symbolStrokeWidth": 0,
            "labelFont": "DejaVu Sans",
            "labelFontSize": 19,
            "labelColor": "black",
            "labelOffset": 21,
            "labelLimit": 400
          }
        }
      }
    }
  ]
}
